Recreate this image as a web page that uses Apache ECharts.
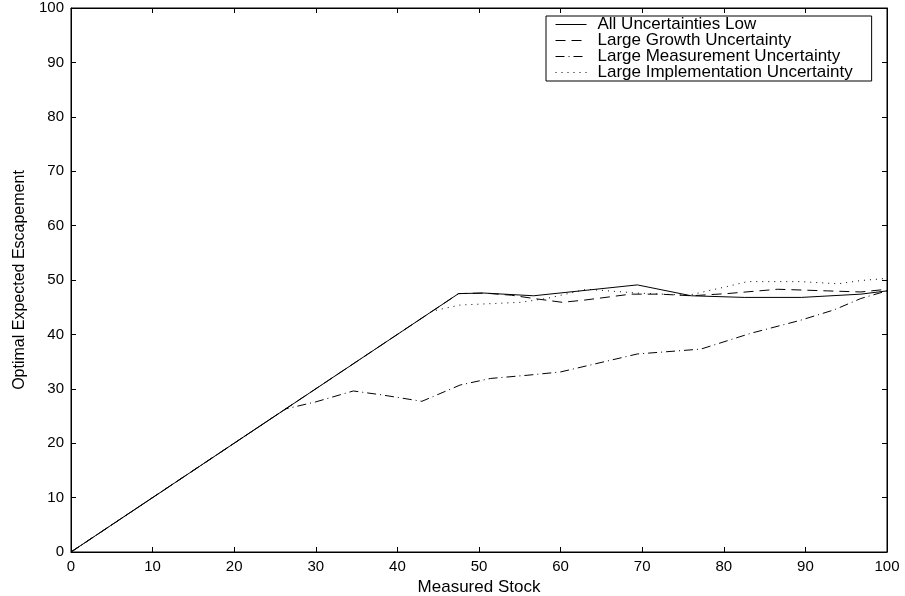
<!DOCTYPE html>
<html>
<head>
<meta charset="utf-8">
<script src="https://cdn.jsdelivr.net/npm/echarts@6/dist/echarts.min.js"></script>
<style>
html,body{margin:0;padding:0;background:#fff;}
#chart{width:905px;height:596px;}
</style>
</head>
<body>
<div id="chart"></div>
<script>
var xTicks = [0,10,20,30,40,50,60,70,80,90,100];
var yTicks = [0,10,20,30,40,50,60,70,80,90,100];

var allLow = [[0,0],[47.5,47.5],[50.6,47.6],[56.7,47.1],[69.4,49.1],[76,47.1],[82.5,46.8],[89.5,46.8],[96.8,47.4],[100,48]];
var growth = [[0,0],[47.5,47.5],[50.6,47.6],[54,47.2],[56.7,46.6],[60.2,45.9],[62.9,46.3],[68.6,47.4],[72.2,47.4],[76,47.1],[80.4,47.5],[86.6,48.3],[92.7,48.0],[96.8,47.8],[100,48.3]];
var measurement = [[0,0],[26.3,26.3],[30,27.6],[34.6,29.6],[38,28.9],[43,27.7],[47.7,30.7],[51.4,31.9],[56,32.5],[60,33.1],[64,34.5],[69.4,36.4],[77.2,37.3],[83.3,40.2],[89.4,42.6],[93.5,44.5],[96.8,46.6],[100,48]];
var implementation = [[0,0],[44.3,44.3],[47.7,45.4],[55.1,45.9],[58.3,46.6],[63.2,48.3],[69.4,47.6],[75.7,47.2],[80.4,48.8],[82.9,49.7],[89.5,49.7],[94,49.3],[96.8,49.9],[100,50.3]];

var names = ['All Uncertainties Low','Large Growth Uncertainty','Large Measurement Uncertainty','Large Implementation Uncertainty'];

var font = 'Liberation Sans, Arial, Helvetica, sans-serif';

function axisBase(extra){
  var a = {
    type:'value', min:0, max:100, interval:10,
    axisLine:{show:true, onZero:false, lineStyle:{color:'#000', width:1}},
    axisTick:{show:true, inside:true, length:5, lineStyle:{color:'#000'}},
    splitLine:{show:false},
    axisLabel:{color:'#000', fontFamily:font, fontSize:15}
  };
  for (var k in extra) a[k]=extra[k];
  return a;
}

var chart = echarts.init(document.getElementById('chart'), null, {renderer:'canvas'});
chart.setOption({
  animation:false,
  backgroundColor:'#fff',
  grid:{left:71, right:18, top:8, bottom:44, containLabel:false, outerBoundsMode:'none',
    show:true, borderColor:'#000', borderWidth:1, backgroundColor:'transparent'},
  xAxis:[
    axisBase({position:'bottom', name:'Measured Stock', nameLocation:'middle', nameGap:21,
      nameTextStyle:{color:'#000', fontFamily:font, fontSize:17},
      axisLabel:{color:'#000', fontFamily:font, fontSize:15, margin:7}}),
    axisBase({position:'top', axisLabel:{show:false}})
  ],
  yAxis:[
    axisBase({position:'left', name:'Optimal Expected Escapement', nameLocation:'middle', nameGap:43,
      nameTextStyle:{color:'#000', fontFamily:font, fontSize:16},
      axisLabel:{color:'#000', fontFamily:font, fontSize:15, margin:7}}),
    axisBase({position:'right', axisLabel:{show:false}})
  ],
  legend:{
    show:true,
    orient:'vertical', left:546, top:16,
    backgroundColor:'#fff', borderColor:'#000', borderWidth:1,
    padding:[0,19,0,9], itemGap:-1, itemWidth:31, itemHeight:14,
    itemStyle:{opacity:0},
    lineStyle:{width:1},
    textStyle:{color:'#000', fontFamily:font, fontSize:17, lineHeight:16, padding:[0,0,0,6]},
    data:names
  },
  series:[
    {name:names[0], type:'line', data:allLow, symbol:'none', color:'#000',
      lineStyle:{color:'#000', width:1, type:'solid'}},
    {name:names[1], type:'line', data:growth, symbol:'none', color:'#000',
      lineStyle:{color:'#000', width:1, type:[10,6]}},
    {name:names[2], type:'line', data:measurement, symbol:'none', color:'#000',
      lineStyle:{color:'#000', width:1, type:[9,4,1,4]}},
    {name:names[3], type:'line', data:implementation, symbol:'none', color:'#000',
      lineStyle:{color:'#000', width:1, type:[1,5]}}
  ]
});
</script>
</body>
</html>
